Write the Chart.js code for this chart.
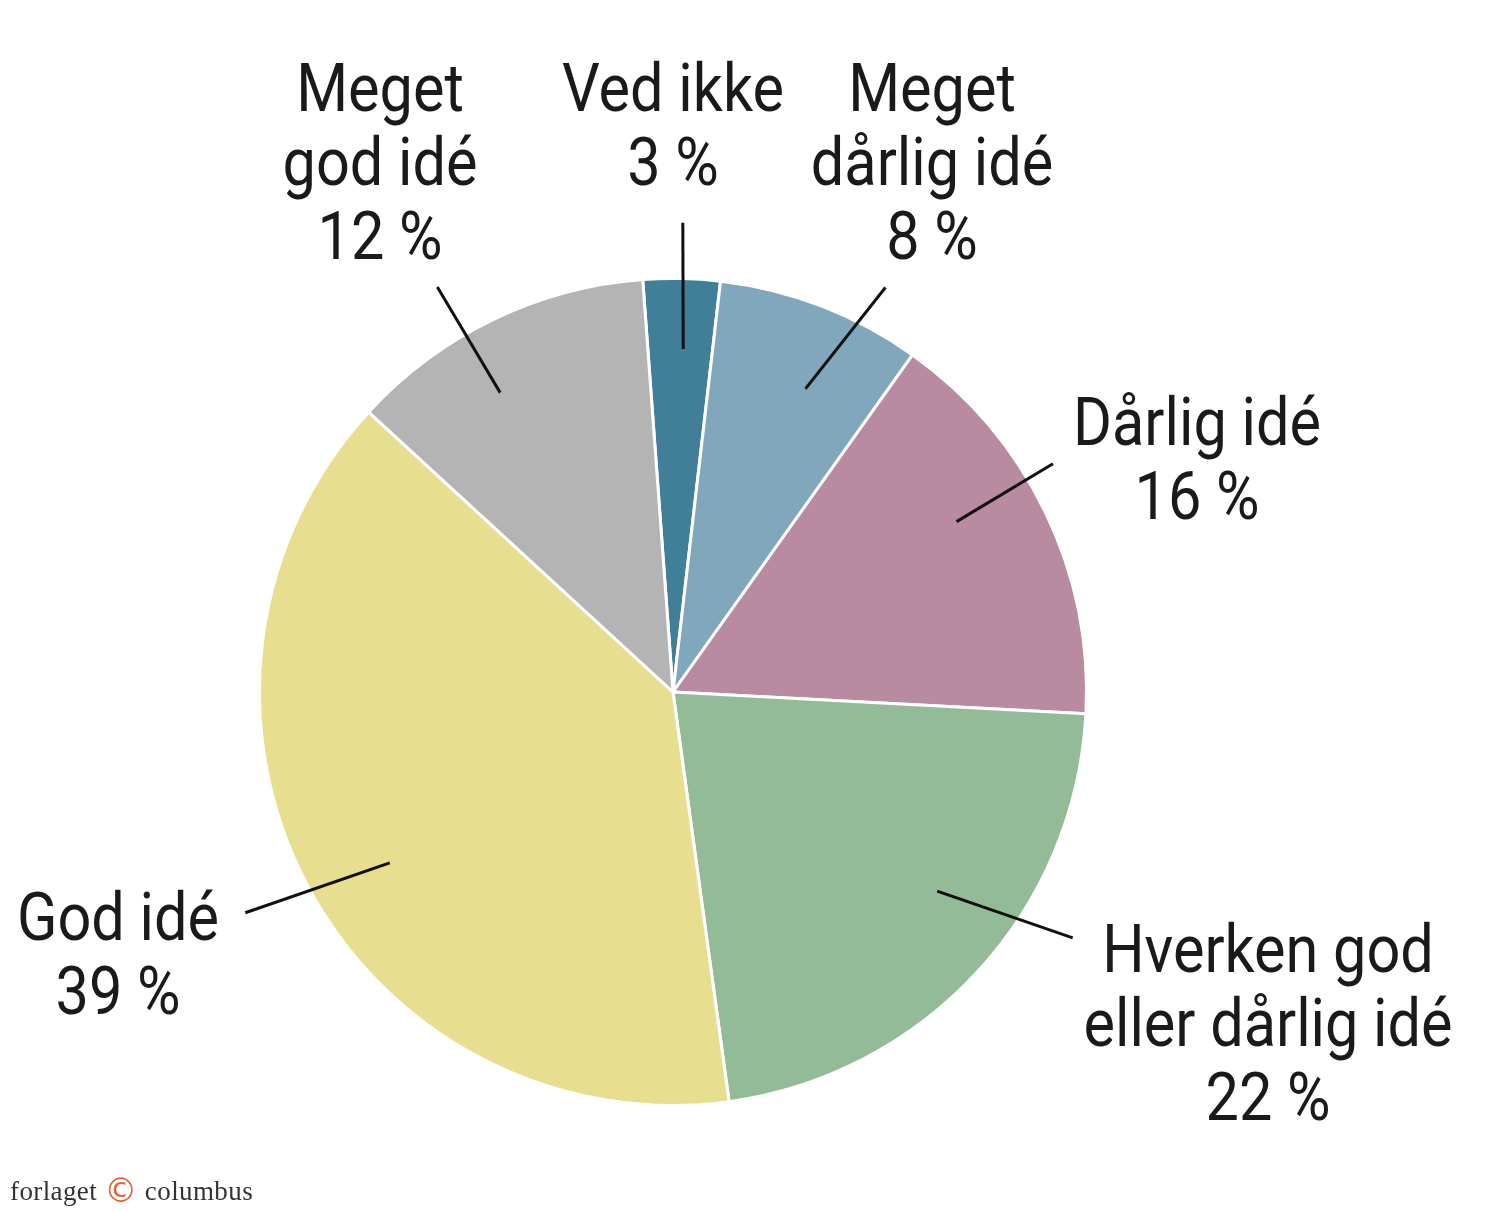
<!DOCTYPE html>
<html>
<head>
<meta charset="utf-8">
<script src="https://cdn.jsdelivr.net/npm/chart.js@4/dist/chart.umd.min.js"></script>
<style>
  html, body { margin:0; padding:0; background:#fff; }
  #wrap { position:relative; width:1500px; height:1211px; }
  #footer { position:absolute; left:10px; top:1176px; font-family:"Liberation Serif","DejaVu Serif",serif; font-size:27px; color:#333; letter-spacing:0.4px; }
  #footer .c { color:#e0633e; font-family:"DejaVu Sans",sans-serif; font-size:33px; line-height:20px; vertical-align:-2px; }
</style>
</head>
<body>
<div id="wrap">
  <canvas id="pie" width="1500" height="1211"></canvas>
  <div id="footer">forlaget <span class="c">©</span> columbus</div>
</div>
<script>
// --- Data ---
const LABELS = [
  ['Ved ikke'],
  ['Meget', 'dårlig idé'],
  ['Dårlig idé'],
  ['Hverken god', 'eller dårlig idé'],
  ['God idé'],
  ['Meget', 'god idé']
];
const VALUES = [3, 8, 16, 22, 39, 12];
const COLORS = ['#417f99', '#80a7bb', '#b88ba1', '#93bb98', '#e8de90', '#b4b4b4'];

// label placement: text centre x / first baseline y, leader line (angle offset from slice middle, radius factor)
const PLACE = [
  { x: 673,  y: 111, a1: 0.5,  r1: 0.83, a2: 0,    r2: 1.135 },
  { x: 932,  y: 111, a1: 2.6,  r1: 0.80, a2: 6.7,  r2: 1.105 },
  { x: 1197, y: 445, a1: -5.2, r1: 0.80, a2: -5.2, r2: 1.072 },
  { x: 1268, y: 972, a1: -5.6, r1: 0.80, a2: -11,  r2: 1.135 },
  { x: 118,  y: 940, a1: -3.5, r1: 0.80, a2: 0.3,  r2: 1.164 },
  { x: 380,  y: 111, a1: -4.2, r1: 0.836,a2: -4.4, r2: 1.133 }
];

const FONT = '66px Roboto, "DejaVu Sans", sans-serif';
const SQUEEZE = 0.9;
const LINE_H = 74;

const labelPlugin = {
  id: 'pieLabels',
  afterDraw(chart) {
    const ctx = chart.ctx;
    const arcs = chart.getDatasetMeta(0).data;
    arcs.forEach((arc, i) => {
      const p = PLACE[i];
      const R = arc.outerRadius;
      const mid = (arc.startAngle + arc.endAngle) / 2;
      const t1 = mid + p.a1 * Math.PI / 180;
      const t2 = mid + p.a2 * Math.PI / 180;
      ctx.save();
      ctx.strokeStyle = '#111';
      ctx.lineWidth = 3;
      ctx.beginPath();
      ctx.moveTo(arc.x + Math.cos(t1) * R * p.r1, arc.y + Math.sin(t1) * R * p.r1);
      ctx.lineTo(arc.x + Math.cos(t2) * R * p.r2, arc.y + Math.sin(t2) * R * p.r2);
      ctx.stroke();

      // condensed-looking text: squeeze horizontally
      ctx.translate(p.x, p.y);
      ctx.scale(SQUEEZE, 1);
      ctx.fillStyle = '#1a1a1a';
      ctx.font = FONT;
      ctx.textAlign = 'center';
      ctx.textBaseline = 'alphabetic';
      const lines = LABELS[i].concat([VALUES[i] + ' %']);
      lines.forEach((ln, k) => ctx.fillText(ln, 0, k * LINE_H));
      ctx.restore();
    });
  }
};

new Chart(document.getElementById('pie'), {
  type: 'pie',
  data: {
    labels: LABELS.map(l => l.join(' ')),
    datasets: [{
      data: VALUES,
      backgroundColor: COLORS,
      borderColor: '#ffffff',
      borderWidth: 3
    }]
  },
  options: {
    responsive: false,
    animation: false,
    rotation: -4.2,
    layout: { padding: { top: 277, bottom: 104, left: 258, right: 412 } },
    plugins: {
      legend: { display: false },
      tooltip: { enabled: false }
    }
  },
  plugins: [labelPlugin]
});
</script>
</body>
</html>
